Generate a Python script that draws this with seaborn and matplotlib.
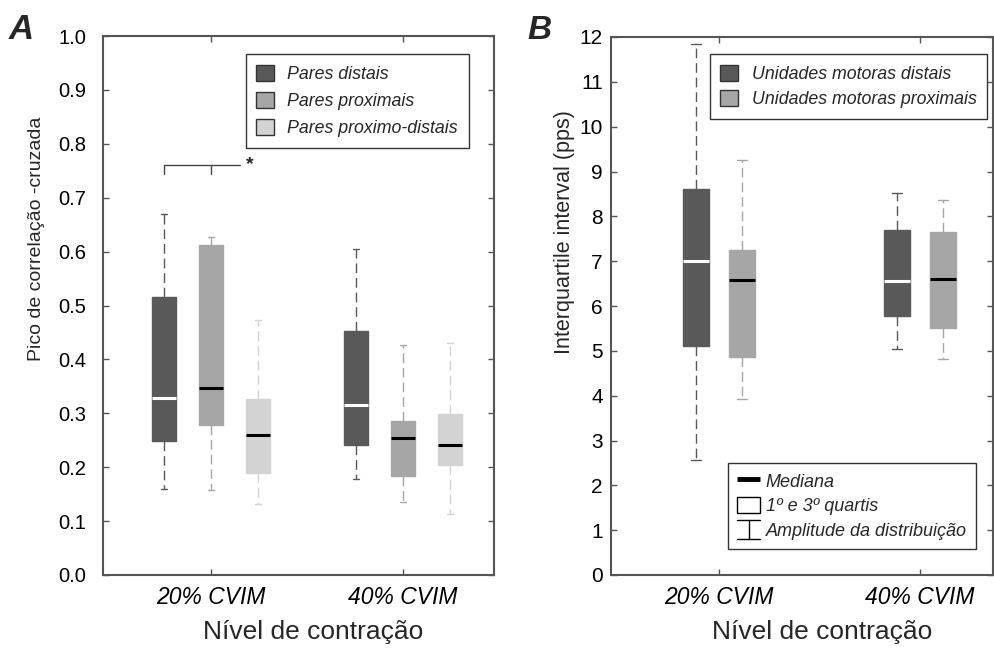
import numpy as np
import pandas as pd
import matplotlib
matplotlib.use("Agg")
import matplotlib.pyplot as plt
import seaborn as sns
from matplotlib.patches import Patch
from matplotlib.lines import Line2D
from matplotlib.legend_handler import HandlerBase

# ---------------- data ----------------
levels = ["20% CVIM", "40% CVIM"]

groups_a = ["Pares distais", "Pares proximais", "Pares proximo-distais"]
# five-number summaries, [level][group]
a_min = [[0.160, 0.158, 0.131], [0.178, 0.135, 0.113]]
a_q1 = [[0.249, 0.278, 0.190], [0.241, 0.184, 0.205]]
a_med = [[0.328, 0.347, 0.259], [0.316, 0.255, 0.241]]
a_q3 = [[0.516, 0.612, 0.327], [0.452, 0.285, 0.299]]
a_max = [[0.669, 0.627, 0.474], [0.604, 0.426, 0.430]]

groups_b = ["Unidades motoras distais", "Unidades motoras proximais"]
b_min = [[2.56, 3.92], [5.04, 4.82]]
b_q1 = [[5.11, 4.86], [5.78, 5.50]]
b_med = [[7.00, 6.58], [6.56, 6.61]]
b_q3 = [[8.61, 7.24], [7.70, 7.66]]
b_max = [[11.84, 9.26], [8.53, 8.36]]

yticks_a = [0.0, 0.1, 0.2, 0.3, 0.4, 0.5, 0.6, 0.7, 0.8, 0.9, 1.0]
yticks_b = list(range(0, 13))

colors_a = ["#595959", "#a6a6a6", "#d3d3d3"]
colors_b = ["#595959", "#a6a6a6"]
median_cols_a = ["white", "black", "black"]
median_cols_b = ["white", "black"]


def build_df(groups, mins, q1s, meds, q3s, maxs):
    rows = []
    for li, lev in enumerate(levels):
        for gi, g in enumerate(groups):
            for v in (mins[li][gi], q1s[li][gi], meds[li][gi], q3s[li][gi], maxs[li][gi]):
                rows.append({"level": lev, "group": g, "value": v})
    return pd.DataFrame(rows)


df_a = build_df(groups_a, a_min, a_q1, a_med, a_q3, a_max)
df_b = build_df(groups_b, b_min, b_q1, b_med, b_q3, b_max)

# ---------------- style ----------------
sns.set_style("ticks")
plt.rcParams["font.family"] = ["Liberation Sans", "DejaVu Sans"]
SPINE = "#555555"

fig = plt.figure(figsize=(9.95, 6.48), dpi=100)
axA = fig.add_axes([103 / 995, 73 / 648, 391 / 995, 539 / 648])
axB = fig.add_axes([611 / 995, 73 / 648, 382 / 995, 538 / 648])


def draw(ax, df, groups, colors, med_cols, width, gap, capw):
    sns.boxplot(data=df, x="level", y="value", hue="group", order=levels,
                hue_order=groups, palette=colors, saturation=1, width=width,
                gap=gap, whis=(0, 100), linewidth=1, fliersize=0, legend=False,
                whiskerprops=dict(linestyle=(0, (7, 3.5))), ax=ax)
    for cont in ax.containers:
        fc = cont.boxes[0].get_facecolor()
        idx = int(np.argmin([np.abs(np.array(matplotlib.colors.to_rgba(c)) - np.array(fc)).sum()
                             for c in colors]))
        col = colors[idx]
        for b in cont.boxes:
            b.set_edgecolor(col)
            b.set_linewidth(1)
        for w in cont.whiskers:
            w.set_color(col)
            w.set_linewidth(1)
        for c in cont.caps:
            c.set_color(col)
            c.set_linewidth(1)
            xd = np.asarray(c.get_xdata(), dtype=float)
            m = xd.mean()
            c.set_xdata([m - capw / 2, m + capw / 2])
        for md in cont.medians:
            md.set_color(med_cols[idx])
            md.set_linewidth(2.2)
    for s in ax.spines.values():
        s.set_visible(True)
        s.set_color(SPINE)
        s.set_linewidth(1.5)
    ax.tick_params(direction="in", top=True, right=True, length=4, width=1,
                   color=SPINE, labelcolor="black")
    ax.set_xticks([0, 1])
    ax.set_xticklabels(levels, fontsize=16.5, style="italic")
    ax.tick_params(axis="x", pad=8)


# ---------------- panel A ----------------
draw(axA, df_a, groups_a, colors_a, median_cols_a, 0.734, 0.49, 0.036)
axA.set_ylim(0, 1)
axA.set_xlim(-0.5625, 1.474)
axA.set_yticks(yticks_a)
axA.set_yticklabels([f"{t:.1f}" for t in yticks_a], fontsize=14.5)
axA.tick_params(axis="y", pad=12)
axA.set_ylabel("Pico de correlação -cruzada", fontsize=14)
axA.yaxis.set_label_coords(-0.148, 0.624)
axA.set_xlabel("Nível de contração", fontsize=19)
axA.xaxis.set_label_coords(0.537, -0.084)

# significance bracket
off = 0.734 / 3
yb, yt = 0.744, 0.761
axA.plot([-off, -off, 0.151], [yb, yt, yt], color="#444444", lw=1)
axA.plot([0, 0], [yt, yb], color="#444444", lw=1)
axA.text(0.2, yt, "*", fontsize=14, fontweight="bold", ha="center", va="center")

hA = [Patch(facecolor=c, edgecolor="#333333", linewidth=1) for c in colors_a]
legA = axA.legend(hA, groups_a, loc="upper left", bbox_to_anchor=(0.365, 0.966),
                  borderaxespad=0, frameon=True, fancybox=False, edgecolor="#333333",
                  framealpha=1, prop=dict(size=12.8, style="italic"), handlelength=1.0,
                  handleheight=1.0, handletextpad=0.75, labelspacing=0.5,
                  borderpad=0.6)
legA.get_frame().set_linewidth(1)

# ---------------- panel B ----------------
draw(axB, df_b, groups_b, colors_b, median_cols_b, 0.458, 0.436, 0.05)
axB.set_ylim(0, 12)
axB.set_xlim(-0.537, 1.363)
axB.set_yticks(yticks_b)
axB.set_yticklabels([str(t) for t in yticks_b], fontsize=15)
axB.tick_params(axis="y", pad=6)
axB.set_ylabel("Interquartile interval (pps)", fontsize=15.5)
axB.yaxis.set_label_coords(-0.094, 0.637)
axB.set_xlabel("Nível de contração", fontsize=19)
axB.xaxis.set_label_coords(0.552, -0.084)

hB = [Patch(facecolor=c, edgecolor="#333333", linewidth=1) for c in colors_b]
legB = axB.legend(hB, groups_b, loc="upper left", bbox_to_anchor=(0.2585, 0.968),
                  borderaxespad=0, frameon=True, fancybox=False, edgecolor="#333333",
                  framealpha=1, prop=dict(size=12.8, style="italic"), handlelength=1.0,
                  handleheight=1.0, handletextpad=0.75, labelspacing=0.4,
                  borderpad=0.6)
legB.get_frame().set_linewidth(1)
axB.add_artist(legB)


class HandlerRange(HandlerBase):
    def create_artists(self, legend, orig_handle, xdescent, ydescent, width,
                       height, fontsize, trans):
        x0, x1 = -xdescent, -xdescent + width
        xm = (x0 + x1) / 2
        y0, y1 = -ydescent - 0.1 * height, -ydescent + 1.1 * height
        lines = [
            Line2D([x0, x1], [y0, y0], color="black", lw=1, transform=trans),
            Line2D([x0, x1], [y1, y1], color="black", lw=1, transform=trans),
            Line2D([xm, xm], [y0, y1], color="black", lw=1, transform=trans),
        ]
        return lines


class RangeHandle:
    pass


h_med = Line2D([], [], color="black", lw=3.5, solid_capstyle="butt")
h_q = Patch(facecolor="white", edgecolor="black", linewidth=1)
h_r = RangeHandle()
legK = axB.legend([h_med, h_q, h_r],
                  ["Mediana", "1º e 3º quartis", "Amplitude da distribuição"],
                  handler_map={RangeHandle: HandlerRange()},
                  loc="upper left", bbox_to_anchor=(0.306, 0.2076), borderaxespad=0,
                  frameon=True, fancybox=False, edgecolor="#333333", framealpha=1,
                  prop=dict(size=13, style="italic"), handlelength=1.3,
                  handleheight=1.0, handletextpad=0.3, labelspacing=0.35,
                  borderpad=0.5)
legK.get_frame().set_linewidth(1)

# panel letters
fig.text(9 / 995, 1 - 39 / 648, "A", fontsize=25, fontweight="bold", style="italic")
fig.text(527 / 995, 1 - 39 / 648, "B", fontsize=24, fontweight="bold", style="italic")

fig.savefig("out.png", dpi=100)
